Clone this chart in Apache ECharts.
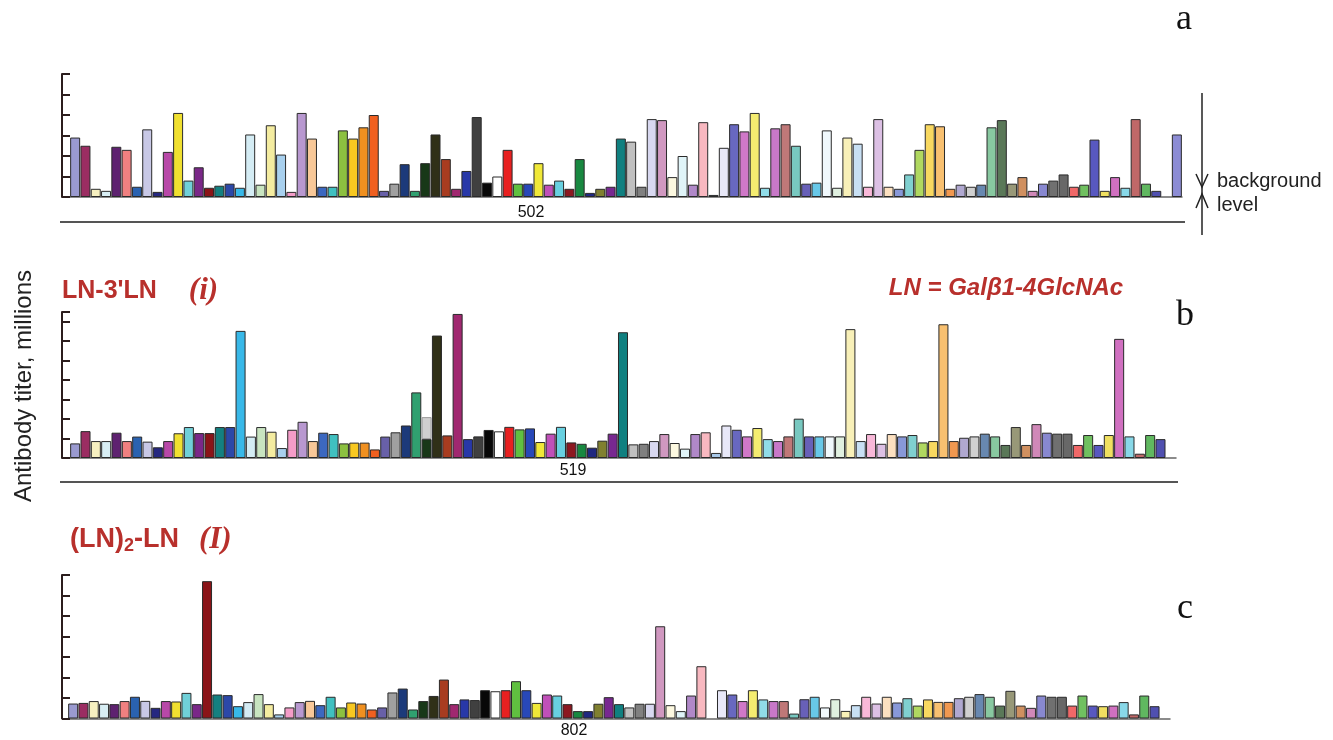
<!DOCTYPE html>
<html>
<head>
<meta charset="utf-8">
<script src="https://cdn.jsdelivr.net/npm/echarts/dist/echarts.min.js"></script>
<style>
  html, body { margin: 0; padding: 0; background: #fff; }
  #chart { width: 1333px; height: 740px; }
</style>
</head>
<body>
<div id="chart"></div>
<script>
// one colour per glycan slot, same order in all three panels
const palette = [
  '#9a9ad0', '#9b2d62', '#f6f0c0', '#d8eef4', '#5e2270', '#f08080', '#2a62b0', '#c8c8e6', '#262880', '#b848a8',
  '#f0e030', '#70d0d8', '#7a2888', '#8a1418', '#148080', '#2c48a8', '#38b8e8', '#d4ecf4', '#c8e4c0', '#f4eca0',
  '#a8d0ee', '#f49cc8', '#b898d0', '#f8c898', '#3c68c0', '#40c0c0', '#8cc040', '#f8c820', '#f09020', '#f06020',
  '#6860a8', '#a0a0a0', '#1c3a7a', '#30a070', '#183818', '#303018', '#a83c20', '#a02870', '#2838a8', '#404040',
  '#080808', '#ffffff', '#e82020', '#60c040', '#2848b8', '#f0e838', '#c050b8', '#68d0e0', '#8c1820', '#188840',
  '#202880', '#808030', '#782890', '#108080', '#c0c0c0', '#808080', '#d8d8f0', '#d098c0', '#fcf8e0', '#e0f4f8',
  '#b088c8', '#f8b8c0', '#a8c8e8', '#e8e8f8', '#6868c0', '#d078c8', '#f4ec70', '#90dce8', '#c878c8', '#c07878',
  '#78c8c0', '#6860b8', '#68c8e8', '#f0f8fc', '#e0f0e0', '#f8f0b8', '#c8e0f4', '#f8b8d8', '#dcc0e4', '#fce0c0',
  '#8898d8', '#80d0d0', '#b0d860', '#f8d860', '#f8c070', '#f09850', '#b0a8d0', '#d0d0d0', '#6888b0', '#88c8a0',
  '#5a7858', '#989878', '#d09060', '#d088b8', '#8888d0', '#707070', '#686868', '#f06868', '#70c060', '#5858c0',
  '#f0e060', '#d070c0', '#88d8e8', '#c06868', '#60b860', '#5050b0', '#ffffff', '#8c8cd4'
];

// panel a - sample 502
const valuesA = [
  2.9, 2.5, 0.4, 0.3, 2.45, 2.3, 0.5, 3.3, 0.25, 2.2,
  4.1, 0.8, 1.45, 0.45, 0.55, 0.65, 0.45, 3.05, 0.6, 3.5,
  2.07, 0.25, 4.1, 2.85, 0.5, 0.5, 3.25, 2.85, 3.4, 4.0,
  0.3, 0.65, 1.6, 0.3, 1.65, 3.05, 1.85, 0.4, 1.27, 3.9,
  0.7, 1.0, 2.3, 0.65, 0.65, 1.65, 0.6, 0.8, 0.4, 1.85,
  0.2, 0.4, 0.5, 2.85, 2.7, 0.5, 3.8, 3.75, 0.97, 2.0,
  0.6, 3.65, 0.1, 2.4, 3.55, 3.2, 4.1, 0.45, 3.35, 3.55,
  2.5, 0.65, 0.7, 3.25, 0.45, 2.9, 2.6, 0.5, 3.8, 0.5,
  0.4, 1.1, 2.3, 3.55, 3.45, 0.4, 0.6, 0.5, 0.6, 3.4,
  3.75, 0.65, 0.97, 0.3, 0.65, 0.8, 1.1, 0.5, 0.6, 2.8,
  0.3, 0.97, 0.45, 3.8, 0.65, 0.3, null, 3.05
];

// panel b - sample 519, LN-3'LN (i)
const valuesB = [
  0.75, 1.38, 0.87, 0.87, 1.3, 0.87, 1.1, 0.84, 0.55, 0.87,
  1.27, 1.59, 1.28, 1.28, 1.59, 1.59, 6.53, 1.1, 1.59, 1.35,
  0.51, 1.45, 1.86, 0.87, 1.3, 1.23, 0.75, 0.79, 0.79, 0.44,
  1.1, 1.32, 1.67, 3.37, 0.97, 6.29, 1.16, 7.4, 0.97, 1.11,
  1.44, 1.37, 1.6, 1.47, 1.52, 0.82, 1.25, 1.6, 0.8, 0.73,
  0.53, 0.89, 1.25, 6.46, 0.7, 0.73, 0.87, 1.23, 0.77, 0.48,
  1.23, 1.32, 0.26, 1.67, 1.45, 1.11, 1.54, 0.97, 0.87, 1.11,
  2.02, 1.11, 1.11, 1.11, 1.11, 6.62, 0.87, 1.23, 0.73, 1.23,
  1.11, 1.18, 0.8, 0.87, 6.87, 0.87, 1.04, 1.11, 1.25, 1.11,
  0.67, 1.59, 0.67, 1.74, 1.3, 1.25, 1.25, 0.67, 1.18, 0.67,
  1.18, 6.12, 1.11, 0.22, 1.18, 0.97, null
];
// grey block sitting on top of slot 35 in panel b
const overlayIndexB = 34;
const overlayValueB = 1.13;

// panel c - sample 802, (LN)2-LN (I)
const valuesC = [
  0.73, 0.76, 0.85, 0.72, 0.7, 0.85, 1.06, 0.86, 0.52, 0.85,
  0.83, 1.25, 0.7, 6.7, 1.17, 1.14, 0.6, 0.8, 1.19, 0.7,
  0.2, 0.54, 0.8, 0.86, 0.65, 1.06, 0.54, 0.78, 0.73, 0.44,
  0.54, 1.27, 1.46, 0.44, 0.85, 1.1, 1.9, 0.7, 0.93, 0.9,
  1.38, 1.33, 1.38, 1.82, 1.38, 0.76, 1.17, 1.12, 0.7, 0.36,
  0.36, 0.72, 1.04, 0.7, 0.54, 0.72, 0.72, 4.5, 0.65, 0.36,
  1.12, 2.55, null, 1.38, 1.17, 0.85, 1.38, 0.93, 0.85, 0.85,
  0.24, 0.94, 1.06, 0.54, 0.94, 0.37, 0.65, 1.06, 0.73, 1.06,
  0.78, 0.99, 0.63, 0.93, 0.81, 0.81, 0.99, 1.06, 1.19, 1.06,
  0.63, 1.35, 0.63, 0.52, 1.12, 1.06, 1.06, 0.63, 1.12, 0.63,
  0.6, 0.63, 0.8, 0.2, 1.12, 0.6, null
];

const sampleIds = ['502', '519', '802'];

const red = '#b8302c';
const ink = '#2b1d1d';

function slots(values) {
  return values.map((_, i) => String(i + 1));
}

function bars(values) {
  return values.map((v, i) => ({
    value: v,
    itemStyle: { color: palette[i] }
  }));
}

function xAxisFor(gi, values) {
  return {
    gridIndex: gi,
    type: 'category',
    data: slots(values),
    axisLine: { lineStyle: { color: '#666', width: 1.5 } },
    axisTick: { show: false },
    axisLabel: { show: false }
  };
}

function yAxisFor(gi, max, offset) {
  return {
    gridIndex: gi,
    type: 'value',
    min: 0,
    max: max,
    interval: 1,
    offset: offset,
    axisLine: { show: true, lineStyle: { color: ink, width: 2 } },
    axisTick: { show: true, inside: true, length: 8, lineStyle: { color: ink, width: 2 } },
    axisLabel: { show: false },
    splitLine: { show: false }
  };
}

function label(x, y, text, font, color) {
  return {
    type: 'text', x: x, y: y,
    style: {
      text: text, font: font, fill: color || '#111',
      align: 'center', verticalAlign: 'middle',
      textAlign: 'center', textVerticalAlign: 'middle'
    }
  };
}

const barStyle = { borderColor: '#2a2a2a', borderWidth: 1 };

const overlayData = valuesB.map((_, i) => i === overlayIndexB ? overlayValueB : null);

const chart = echarts.init(document.getElementById('chart'));

chart.setOption({
  animation: false,
  backgroundColor: '#fff',
  grid: [
    { left: 70, top: 74, width: 1112, height: 123 },
    { left: 70, top: 312, width: 1106, height: 146 },
    { left: 68, top: 575, width: 1102, height: 143.5 }
  ],
  xAxis: [
    xAxisFor(0, valuesA),
    xAxisFor(1, valuesB),
    xAxisFor(2, valuesC)
  ],
  yAxis: [
    yAxisFor(0, 6, 8),
    yAxisFor(1, 7.5, 8),
    yAxisFor(2, 7, 6)
  ],
  series: [
    {
      type: 'bar', xAxisIndex: 0, yAxisIndex: 0,
      data: bars(valuesA), barCategoryGap: '3%',
      itemStyle: barStyle, silent: true
    },
    {
      type: 'bar', xAxisIndex: 1, yAxisIndex: 1, stack: 'b',
      data: bars(valuesB), barCategoryGap: '3%',
      itemStyle: barStyle, silent: true
    },
    {
      type: 'bar', xAxisIndex: 1, yAxisIndex: 1, stack: 'b',
      data: overlayData, barCategoryGap: '3%',
      itemStyle: { color: '#cfcfcf', borderColor: '#9a9a9a', borderWidth: 1 }, silent: true
    },
    {
      type: 'bar', xAxisIndex: 2, yAxisIndex: 2,
      data: bars(valuesC), barCategoryGap: '3%',
      itemStyle: barStyle, silent: true
    }
  ],
  graphic: [
    // separator lines under panels a and b
    { type: 'line', shape: { x1: 60, y1: 222, x2: 1185, y2: 222 }, style: { stroke: '#555', lineWidth: 2 } },
    { type: 'line', shape: { x1: 60, y1: 482, x2: 1178, y2: 482 }, style: { stroke: '#555', lineWidth: 2 } },

    // sample numbers
    label(531, 213, sampleIds[0], '16px "Liberation Sans"'),
    label(573, 471, sampleIds[1], '16px "Liberation Sans"'),
    label(574, 731, sampleIds[2], '16px "Liberation Sans"'),

    // y title
    {
      type: 'text', x: 24, y: 386, rotation: Math.PI / 2,
      style: { text: 'Antibody titer, millions', font: '24px "Liberation Sans"', fill: '#222', align: 'center', verticalAlign: 'middle', textAlign: 'center', textVerticalAlign: 'middle' }
    },

    // panel letters
    label(1184, 20, 'a', '36px "Liberation Serif"'),
    label(1185, 316, 'b', '36px "Liberation Serif"'),
    label(1185, 609, 'c', '36px "Liberation Serif"'),

    // panel titles
    {
      type: 'text', x: 62, y: 291,
      style: {
        text: "{a|LN-3'LN}{g| }{b|(i)}",
        verticalAlign: 'middle', textVerticalAlign: 'middle',
        rich: {
          a: { fontFamily: 'Liberation Sans', fontWeight: 'bold', fontSize: 25, lineHeight: 30, fill: red },
          g: { fontSize: 25, width: 32 },
          b: { fontFamily: 'Liberation Serif', fontStyle: 'italic', fontWeight: 'bold', fontSize: 31, lineHeight: 30, fill: red }
        }
      }
    },
    {
      type: 'text', x: 70, y: 540,
      style: {
        text: '{a|(LN)}{s|2}{a|-LN}{g| }{b|(I)}',
        verticalAlign: 'middle', textVerticalAlign: 'middle',
        rich: {
          a: { fontFamily: 'Liberation Sans', fontWeight: 'bold', fontSize: 27, lineHeight: 30, fill: red },
          s: { fontFamily: 'Liberation Sans', fontWeight: 'bold', fontSize: 18, lineHeight: 16, verticalAlign: 'bottom', fill: red },
          g: { fontSize: 25, width: 20 },
          b: { fontFamily: 'Liberation Serif', fontStyle: 'italic', fontWeight: 'bold', fontSize: 31, lineHeight: 30, fill: red }
        }
      }
    },
    label(1006, 288, 'LN = Galβ1-4GlcNAc', 'italic bold 24px "Liberation Sans"', red),

    // background level marker
    { type: 'line', shape: { x1: 1202, y1: 93, x2: 1202, y2: 235 }, style: { stroke: '#222', lineWidth: 1.5 } },
    { type: 'polyline', shape: { points: [[1196, 174], [1202, 187], [1208, 174]] }, style: { stroke: '#222', lineWidth: 1.5, fill: null } },
    { type: 'polyline', shape: { points: [[1196, 208], [1202, 194], [1208, 208]] }, style: { stroke: '#222', lineWidth: 1.5, fill: null } },
    { type: 'text', x: 1217, y: 181, style: { text: 'background', font: '20px "Liberation Sans"', fill: '#222', verticalAlign: 'middle', textVerticalAlign: 'middle' } },
    { type: 'text', x: 1217, y: 205, style: { text: 'level', font: '20px "Liberation Sans"', fill: '#222', verticalAlign: 'middle', textVerticalAlign: 'middle' } }
  ]
});
</script>
</body>
</html>
